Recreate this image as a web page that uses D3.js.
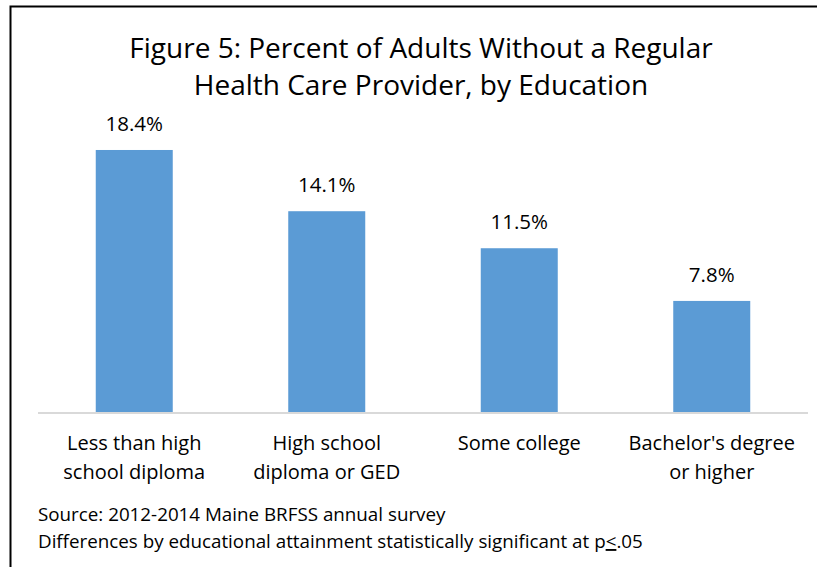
<!DOCTYPE html>
<html>
<head>
<meta charset="utf-8">
<script src="https://cdn.jsdelivr.net/npm/d3@7"></script>
<style>
  body { margin: 0; background: #fff; }
  svg text { font-family: "Open Sans", sans-serif; fill: #000; }
</style>
</head>
<body>
<div id="chart"></div>
<script>
// data
const categories = [
  ["Less than high", "school diploma"],
  ["High school", "diploma or GED"],
  ["Some college"],
  ["Bachelor's degree", "or higher"]
];
const values = [18.4, 14.1, 11.5, 7.8];
const titleLines = ["Figure 5: Percent of Adults Without a Regular", "Health Care Provider, by Education"];
const notes = ["Source: 2012-2014 Maine BRFSS annual survey"];

const width = 817, height = 567;
const svg = d3.select("#chart").append("svg")
  .attr("width", width)
  .attr("height", height);

// rahmen
svg.append("path")
  .attr("d", "M10.5,567 V6.5 H817")
  .attr("fill", "none")
  .attr("stroke", "#000")
  .attr("stroke-width", 2);

const x = d3.scaleBand()
  .domain(d3.range(categories.length))
  .range([38, 808])
  .paddingInner(0.6)
  .paddingOuter(0.3);

const y = d3.scaleLinear()
  .domain([0, 20])
  .range([412, 127.2]);

// naslov
svg.append("text")
  .attr("text-anchor", "middle")
  .attr("font-size", "28px")
  .selectAll("tspan")
  .data(titleLines)
  .enter()
  .append("tspan")
  .attr("x", 421)
  .attr("y", (d, i) => 58 + i * 37)
  .text(d => d);

// stupci
svg.selectAll(".bar")
  .data(values)
  .enter()
  .append("rect")
  .attr("class", "bar")
  .attr("x", (d, i) => x(i))
  .attr("y", d => y(d))
  .attr("width", x.bandwidth())
  .attr("height", d => y(0) - y(d))
  .attr("fill", "#5b9bd5");

// osnovna linija
svg.append("line")
  .attr("x1", 38).attr("x2", 808)
  .attr("y1", y(0) + 1).attr("y2", y(0) + 1)
  .attr("stroke", "#d9d9d9")
  .attr("stroke-width", 2);

// vrijednosti
svg.selectAll(".val")
  .data(values)
  .enter()
  .append("text")
  .attr("class", "val")
  .attr("text-anchor", "middle")
  .attr("font-size", "20.5px")
  .attr("x", (d, i) => x(i) + x.bandwidth() / 2)
  .attr("y", d => y(d) - 19)
  .text(d => d.toFixed(1) + "%");

// kategorije
const cat = svg.selectAll(".cat")
  .data(categories)
  .enter()
  .append("text")
  .attr("class", "cat")
  .attr("text-anchor", "middle")
  .attr("font-size", "20px");

cat.selectAll("tspan")
  .data((d, i) => d.map(t => ({ t, i })))
  .enter()
  .append("tspan")
  .attr("x", d => x(d.i) + x.bandwidth() / 2)
  .attr("y", (d, j) => 450 + j * 29)
  .text(d => d.t);

// izvor
svg.append("text")
  .attr("x", 38)
  .attr("y", 521)
  .attr("font-size", "18.8px")
  .text(notes[0]);

const note2 = svg.append("text")
  .attr("x", 38)
  .attr("y", 548)
  .attr("font-size", "18.8px");
note2.append("tspan").text("Differences by educational attainment statistically significant at p");
note2.append("tspan").attr("text-decoration", "underline").text("<");
note2.append("tspan").text(".05");
</script>
</body>
</html>
